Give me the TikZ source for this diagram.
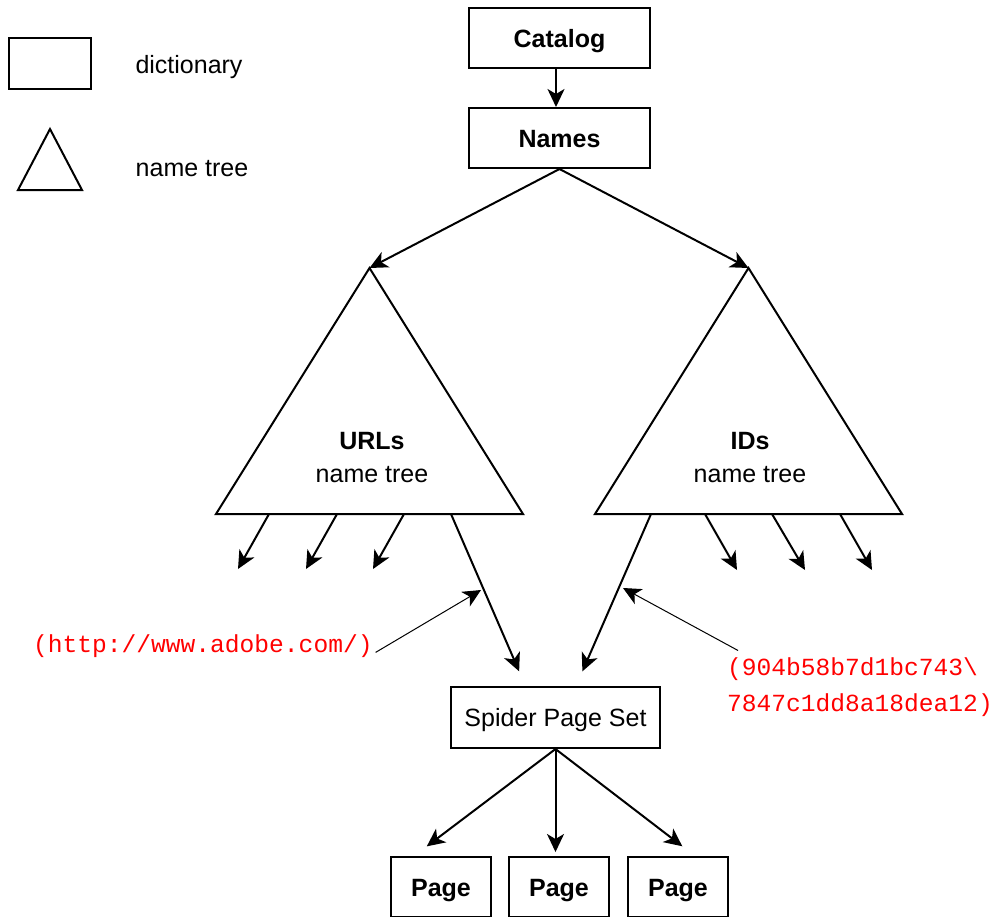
\documentclass[tikz,border=0pt]{standalone}
\usepackage{fontspec}
\setmainfont{Liberation Sans}
\setmonofont{Liberation Mono}
\usetikzlibrary{arrows.meta}

\begin{document}
\begin{tikzpicture}[x=0.5pt, y=-0.5pt,
  box/.style={draw, line width=1pt, inner sep=0pt, text height=9pt, text depth=0pt, font=\fontsize{12.5}{15}\selectfont},
  label/.style={font=\fontsize{12.5}{16.5}\selectfont, align=center},
  link/.style={line width=1pt, -{Stealth[length=9pt, width=8.5pt, inset=2.5pt]}},
  note/.style={line width=0.5pt, -{Stealth[length=9pt, width=8.5pt, inset=2.5pt]}},
  key/.style={text=red, font=\ttfamily\fontsize{12.3}{18}\selectfont, align=left}]

\useasboundingbox (0,0) rectangle (994,916);
\clip (0,0) rectangle (994,916);

% legend
\node[box, minimum width=41pt, minimum height=25.5pt] (legdict) at (50,63.5) {};
\node[label] (legdicttext) at (189,67) {dictionary};
\draw[line width=1pt] (50,129) -- (82,190) -- (18,190) -- cycle;
\node[label] (legtreetext) at (192,169) {name tree};

% catalog and names
\node[box, font=\fontsize{12.5}{15}\selectfont\bfseries, minimum width=90.5pt, minimum height=30pt] (catalog) at (559.5,38) {Catalog};
\node[box, font=\fontsize{12.5}{15}\selectfont\bfseries, minimum width=90.5pt, minimum height=30pt] (names) at (559.5,138) {Names};
\draw[link] ([xshift=-1.75pt]catalog.south) -- ([xshift=-1.75pt]names.north);

% the two name trees
\coordinate (urltop) at (369.5,268);
\coordinate (idtop) at (748.5,268);
\draw[line width=1pt] (urltop) -- (523,514) -- (216,514) -- cycle;
\draw[line width=1pt] (idtop) -- (902,514) -- (595,514) -- cycle;
\node[label] (urls) at (372,458) {\textbf{URLs}\\name tree};
\node[label] (ids) at (750,458) {\textbf{IDs}\\name tree};

\draw[link] (names.south) -- (urltop);
\draw[link] (names.south) -- (idtop);

% leaves of the trees
\coordinate (u1) at (269,514);
\coordinate (u2) at (337,514);
\coordinate (u3) at (404,514);
\coordinate (u4) at (451,514);
\coordinate (u1end) at (238,569);
\coordinate (u2end) at (306,569);
\coordinate (u3end) at (373,569);
\draw[link] (u1) -- (u1end);
\draw[link] (u2) -- (u2end);
\draw[link] (u3) -- (u3end);

\coordinate (i1) at (651,514);
\coordinate (i2) at (705,514);
\coordinate (i3) at (772,514);
\coordinate (i4) at (840,514);
\coordinate (i2end) at (737,570);
\coordinate (i3end) at (805,570);
\coordinate (i4end) at (872,570);
\draw[link] (i2) -- (i2end);
\draw[link] (i3) -- (i3end);
\draw[link] (i4) -- (i4end);

% spider page set
\node[box, minimum width=104.5pt, minimum height=30.5pt] (spider) at (555.5,717.5) {Spider Page Set};
\draw[link, shorten >=8pt] (u4) -- ([xshift=-15pt]spider.north);
\draw[link, shorten >=8pt] (i1) -- ([xshift=10.25pt]spider.north);

% keys
\node[key, anchor=west] (urlkey) at (26,646) {(http://www.adobe.com/)};
\node[key, anchor=west] (idkey) at (720,687) {(904b58b7d1bc743\textbackslash\\7847c1dd8a18dea12)};
\coordinate (urlhit) at (481,590);
\coordinate (idhit) at (623,588);
\draw[note] ([xshift=-2pt]urlkey.base east) -- (urlhit);
\draw[note] ([xshift=9pt]idkey.north west) -- (idhit);

% pages
\node[box, font=\fontsize{12.5}{15}\selectfont\bfseries, minimum width=50pt, minimum height=30pt] (page1) at (441,887) {Page};
\node[box, font=\fontsize{12.5}{15}\selectfont\bfseries, minimum width=50pt, minimum height=30pt] (page2) at (559,887) {Page};
\node[box, font=\fontsize{12.5}{15}\selectfont\bfseries, minimum width=50pt, minimum height=30pt] (page3) at (678,887) {Page};
\draw[link, shorten >=8pt] (spider.south) -- ([xshift=-13.5pt]page1.north);
\draw[link, shorten >=2pt] (spider.south) -- (spider.south |- page2.north);
\draw[link, shorten >=8pt] (spider.south) -- ([xshift=8.5pt]page3.north);

\end{tikzpicture}
\end{document}
